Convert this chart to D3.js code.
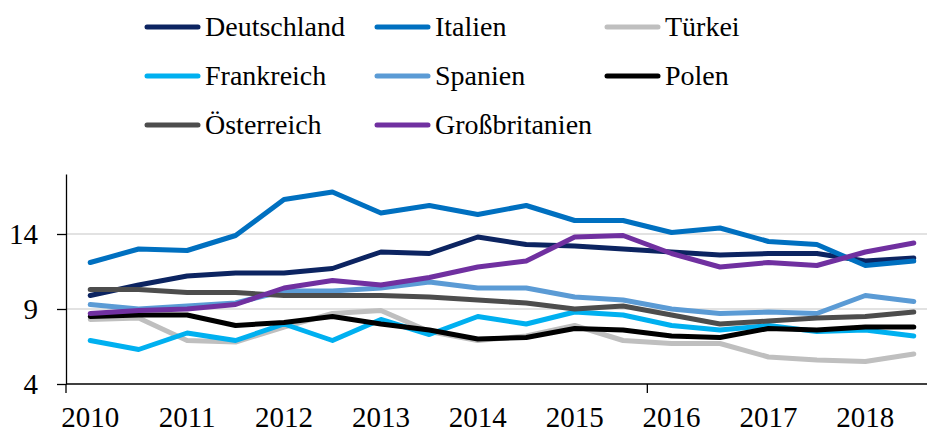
<!DOCTYPE html>
<html>
<head>
<meta charset="utf-8">
<script src="https://cdn.jsdelivr.net/npm/d3@7"></script>
<style>
  html, body { margin: 0; padding: 0; background: #fff; }
  svg { display: block; }
  svg text { font-family: "Liberation Serif", "Times New Roman", serif; }
</style>
</head>
<body>
<svg id="chart" width="927" height="434"></svg>
<script>
// Half-year periods, 2010 H1 to 2018 H2
const periods = ["2010 H1","2010 H2","2011 H1","2011 H2","2012 H1","2012 H2","2013 H1","2013 H2",
  "2014 H1","2014 H2","2015 H1","2015 H2","2016 H1","2016 H2","2017 H1","2017 H2","2018 H1","2018 H2"];
const yearLabels = ["2010","2011","2012","2013","2014","2015","2016","2017","2018"];
const yTicks = [4, 9, 14];

const countries = ["Deutschland","Italien","Türkei","Frankreich","Spanien","Polen","Österreich","Großbritanien"];
const colors = ["#0c2461","#0070c0","#bfbfbf","#00b0f0","#5b9bd5","#000000","#4d4d4d","#7030a0"];

const deutschland   = [9.9, 10.6, 11.2, 11.4, 11.4, 11.7, 12.8, 12.7, 13.8, 13.3, 13.2, 13.0, 12.8, 12.6, 12.7, 12.7, 12.2, 12.4];
const italien       = [12.1, 13.0, 12.9, 13.9, 16.3, 16.8, 15.4, 15.9, 15.3, 15.9, 14.9, 14.9, 14.1, 14.4, 13.5, 13.3, 11.9, 12.2];
const tuerkei       = [8.3, 8.4, 6.9, 6.8, 7.8, 8.7, 8.9, 7.5, 6.9, 7.2, 7.9, 6.9, 6.7, 6.7, 5.8, 5.6, 5.5, 6.0];
const frankreich    = [6.9, 6.3, 7.4, 6.9, 8.0, 6.9, 8.3, 7.3, 8.5, 8.0, 8.8, 8.6, 7.9, 7.6, 7.9, 7.5, 7.6, 7.2];
const spanien       = [9.3, 9.0, 9.2, 9.4, 10.2, 10.2, 10.4, 10.8, 10.4, 10.4, 9.8, 9.6, 9.0, 8.7, 8.8, 8.7, 9.9, 9.5];
const polen         = [8.5, 8.6, 8.6, 7.9, 8.1, 8.5, 8.0, 7.6, 7.0, 7.1, 7.7, 7.6, 7.2, 7.1, 7.7, 7.6, 7.8, 7.8];
const oesterreich   = [10.3, 10.3, 10.1, 10.1, 9.9, 9.9, 9.9, 9.8, 9.6, 9.4, 9.0, 9.2, 8.6, 8.0, 8.2, 8.4, 8.5, 8.8];
const grossbritanien= [8.7, 8.9, 9.0, 9.3, 10.4, 10.9, 10.6, 11.1, 11.8, 12.2, 13.8, 13.9, 12.7, 11.8, 12.1, 11.9, 12.8, 13.4];

const seriesValues = [deutschland, italien, tuerkei, frankreich, spanien, polen, oesterreich, grossbritanien];

const svg = d3.select("#chart");

// Plot frame
const plotLeft = 66, plotRight = 938, plotTop = 174, plotBottom = 384;

const x = d3.scaleBand().domain(periods).range([plotLeft, plotRight]).paddingInner(0).paddingOuter(0);
const y = d3.scaleLinear().domain([4, 18]).range([plotBottom, plotTop]);
const cx = p => x(p) + x.bandwidth() / 2;

// Gridlines
svg.append("g")
  .selectAll("line")
  .data(yTicks.filter(t => t > 4))
  .join("line")
  .attr("x1", plotLeft).attr("x2", plotRight)
  .attr("y1", d => y(d)).attr("y2", d => y(d))
  .attr("stroke", "#d9d9d9").attr("stroke-width", 1.5);

// Y axis
const yAxis = svg.append("g")
  .attr("transform", `translate(${plotLeft},0)`)
  .call(d3.axisLeft(y).tickValues(yTicks).tickSize(9).tickPadding(19).tickSizeOuter(0));
yAxis.select(".domain").attr("stroke", "#000").attr("stroke-width", 1.3);
yAxis.selectAll(".tick line").attr("stroke", "#000").attr("stroke-width", 1.3);
yAxis.selectAll(".tick text")
  .attr("font-family", "Liberation Serif, Times New Roman, serif")
  .attr("font-size", 29).attr("fill", "#000");

// Lines
const line = d3.line()
  .x((d, i) => cx(periods[i]))
  .y(d => y(d));

svg.append("g")
  .selectAll("path")
  .data(seriesValues)
  .join("path")
  .attr("d", d => line(d))
  .attr("fill", "none")
  .attr("stroke", (d, i) => colors[i])
  .attr("stroke-width", 5)
  .attr("stroke-linejoin", "round")
  .attr("stroke-linecap", "round");

// X axis: baseline, tick marks every 12 periods, year labels under first half-year
const xg = svg.append("g");
xg.append("line")
  .attr("x1", plotLeft).attr("x2", plotRight)
  .attr("y1", plotBottom).attr("y2", plotBottom)
  .attr("stroke", "#000").attr("stroke-width", 1.3);
xg.selectAll("line.tick")
  .data(periods.filter((p, i) => i % 12 === 0))
  .join("line")
  .attr("class", "tick")
  .attr("x1", d => x(d)).attr("x2", d => x(d))
  .attr("y1", plotBottom).attr("y2", plotBottom + 9)
  .attr("stroke", "#000").attr("stroke-width", 1.3);
xg.selectAll("text")
  .data(yearLabels)
  .join("text")
  .attr("x", d => cx(d + " H1"))
  .attr("y", 427)
  .attr("text-anchor", "middle")
  .attr("font-size", 29)
  .attr("fill", "#000")
  .text(d => d);

// Legend: three columns
const legend = svg.append("g");
const colX = [145, 375, 605];
const rowY = [27, 76, 125];
countries.forEach((name, i) => {
  const gx = colX[i % 3], gy = rowY[Math.floor(i / 3)];
  legend.append("line")
    .attr("x1", gx + 2).attr("x2", gx + 53)
    .attr("y1", gy).attr("y2", gy)
    .attr("stroke", colors[i]).attr("stroke-width", 5)
    .attr("stroke-linecap", "round");
  legend.append("text")
    .attr("x", gx + 60).attr("y", gy + 9)
    .attr("font-size", 28).attr("fill", "#000")
    .text(name);
});
</script>
</body>
</html>
